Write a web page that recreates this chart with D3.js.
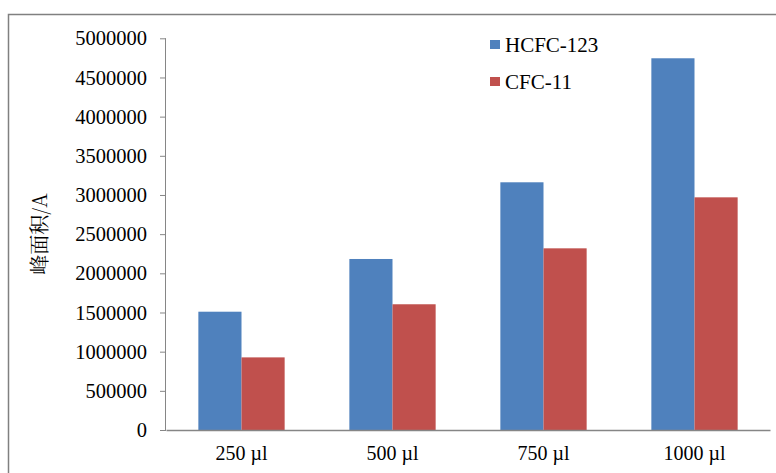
<!DOCTYPE html>
<html>
<head>
<meta charset="utf-8">
<script src="https://cdn.jsdelivr.net/npm/d3@7"></script>
<style>
  html, body { margin: 0; padding: 0; background: #fff; }
  svg { display: block; }
</style>
</head>
<body>
<svg id="chart" width="776" height="473"></svg>
<script>
// Sample volumes on the x axis
const categories = ["250 µl", "500 µl", "750 µl", "1000 µl"];
// Peak areas per compound
const seriesNames = ["HCFC-123", "CFC-11"];
const hcfc123 = [1510000, 2183000, 3162000, 4745000];
const cfc11 = [927000, 1605000, 2319000, 2970000];
const yTicks = [0, 500000, 1000000, 1500000, 2000000, 2500000, 3000000, 3500000, 4000000, 4500000, 5000000];
const colors = ["#4F81BD", "#C0504D"];
const yTitle = "峰面积/A";

const svg = d3.select("#chart");
const serif = "'Liberation Serif', 'DejaVu Serif', serif";

// Outer frame of the chart area
svg.append("rect")
  .attr("x", 8.5).attr("y", 14.5)
  .attr("width", 900).attr("height", 600)
  .attr("fill", "none")
  .attr("stroke", "#808080")
  .attr("stroke-width", 1.5);

const plot = { left: 166, right: 770, top: 38.3, bottom: 430 };

const x = d3.scaleBand()
  .domain(categories)
  .range([plot.left, plot.right])
  .paddingInner(0)
  .paddingOuter(0);

const y = d3.scaleLinear()
  .domain([0, 5000000])
  .range([plot.bottom, plot.top]);

// Two bars per category, Excel-style 150% gap width
const barW = x.bandwidth() / 3.5;
const xs = d3.scaleBand()
  .domain(seriesNames)
  .range([0, barW * 2]);

const data = categories.map((c, i) => ({ cat: c, values: [hcfc123[i], cfc11[i]] }));

const groups = svg.append("g").selectAll("g")
  .data(data)
  .join("g")
  .attr("transform", d => `translate(${x(d.cat) + (x.bandwidth() - barW * 2) / 2},0)`);

groups.selectAll("rect")
  .data(d => d.values.map((v, j) => ({ name: seriesNames[j], v, j })))
  .join("rect")
  .attr("x", d => xs(d.name))
  .attr("width", xs.bandwidth())
  .attr("y", d => y(d.v))
  .attr("height", d => y(0) - y(d.v))
  .attr("fill", d => colors[d.j]);

// Y axis
const yAxis = svg.append("g")
  .attr("transform", `translate(${plot.left},0)`)
  .call(d3.axisLeft(y).tickValues(yTicks).tickFormat(d3.format("d")).tickSize(6).tickPadding(13));
yAxis.select(".domain").attr("stroke", "#868686").attr("d", `M-0.5,${plot.top}V${plot.bottom}`);
yAxis.selectAll(".tick line").attr("stroke", "#868686");
yAxis.selectAll(".tick text")
  .attr("fill", "#000")
  .style("font-family", serif)
  .style("font-size", "20.5px");

// X axis baseline
const xAxis = svg.append("g")
  .attr("transform", `translate(0,${plot.bottom})`)
  .call(d3.axisBottom(x).tickSize(0).tickPadding(16));
xAxis.select(".domain").attr("stroke", "#868686").attr("stroke-width", 1.5);
xAxis.selectAll(".tick text")
  .attr("fill", "#000")
  .style("font-family", serif)
  .style("font-size", "20px");

// Y axis title
svg.append("text")
  .attr("transform", `translate(47,${(plot.top + plot.bottom) / 2}) rotate(-90)`)
  .attr("text-anchor", "middle")
  .attr("fill", "#000")
  .style("font-family", "'Noto Serif CJK SC', 'Noto Sans CJK SC', serif")
  .style("font-size", "20px")
  .text(yTitle);

// Legend
const legend = svg.append("g").selectAll("g")
  .data(seriesNames)
  .join("g")
  .attr("transform", (d, i) => `translate(490,${40 + i * 37})`);
legend.append("rect")
  .attr("width", 10).attr("height", 9)
  .attr("fill", (d, i) => colors[i]);
legend.append("text")
  .attr("x", 15).attr("y", 11.5)
  .attr("fill", "#000")
  .style("font-family", serif)
  .style("font-size", "21px")
  .text(d => d);
</script>
</body>
</html>
